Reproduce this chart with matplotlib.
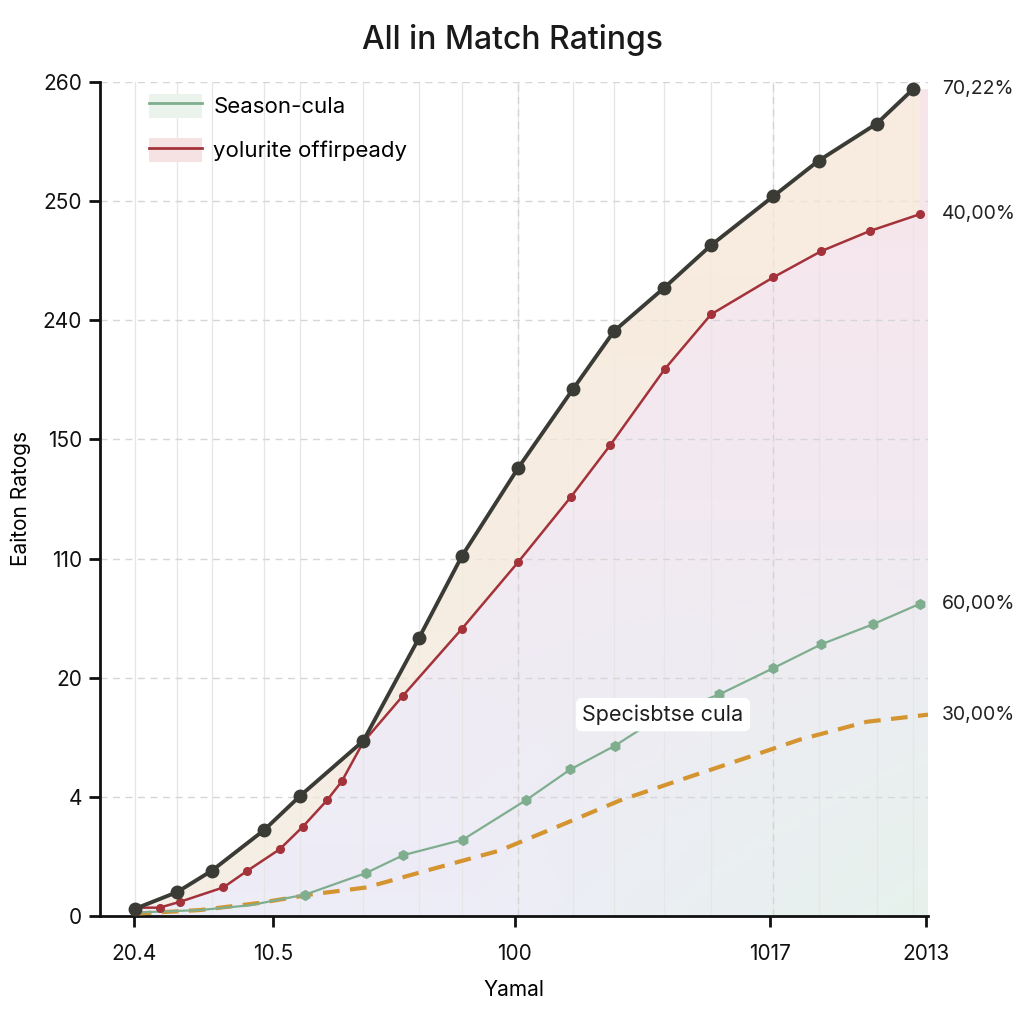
import numpy as np
import matplotlib
matplotlib.use("Agg")
import matplotlib.pyplot as plt
from matplotlib.lines import Line2D
from matplotlib.patches import Patch

plt.rcParams['font.family'] = ['Inter', 'DejaVu Sans']

# tick labels (evenly spaced positions, labels as printed)
y_labels = ['0', '4', '20', '110', '150', '240', '250', '260']
x_tick_pos = [0.41, 2.09, 5.01, 8.09, 9.98]
x_labels = ['20.4', '10.5', '100', '1017', '2013']

# series, in axis units
black_x = [0.42, 0.93, 1.35, 1.98, 2.42, 3.18, 3.85, 4.37, 5.05, 5.71, 6.21, 6.81, 7.38, 8.13, 8.68, 9.38, 9.82]
black_y = [0.06, 0.20, 0.38, 0.72, 1.01, 1.47, 2.33, 3.02, 3.76, 4.42, 4.91, 5.27, 5.63, 6.04, 6.34, 6.65, 6.94]

red_x = [0.43, 0.72, 0.97, 1.49, 1.78, 2.17, 2.45, 2.74, 2.92, 3.18, 3.66, 4.37, 5.05, 5.69, 6.16, 6.82, 7.38, 8.13, 8.71, 9.30, 9.90]
red_y = [0.07, 0.07, 0.12, 0.24, 0.38, 0.56, 0.75, 0.97, 1.13, 1.46, 1.85, 2.41, 2.97, 3.52, 3.95, 4.59, 5.05, 5.36, 5.58, 5.75, 5.89]

green_x = [0.48, 1.21, 1.81, 2.48, 3.21, 3.66, 4.38, 5.14, 5.68, 6.22, 6.76, 7.48, 8.13, 8.71, 9.34, 9.90]
green_y = [0.03, 0.05, 0.09, 0.18, 0.36, 0.51, 0.64, 0.97, 1.23, 1.43, 1.67, 1.86, 2.08, 2.28, 2.45, 2.62]

orange_x = [0.42, 1.21, 1.93, 2.54, 3.22, 3.99, 4.83, 5.56, 6.28, 7.00, 7.73, 8.45, 9.26, 10.0]
orange_y = [0.02, 0.05, 0.11, 0.18, 0.24, 0.39, 0.55, 0.76, 0.97, 1.14, 1.31, 1.48, 1.63, 1.69]

end_labels = ['70,22%', '40,00%', '60,00%', '30,00%']

c_black = '#3b3b35'
c_red = '#a3323a'
c_green = '#7fae8f'
c_orange = '#d49430'

fig = plt.figure(figsize=(10.24, 10.24), dpi=100)
ax = fig.add_axes([100 / 1024, 108 / 1024, 828 / 1024, 834 / 1024])
ax.set_xlim(0, 10)
ax.set_ylim(0, 7)

# soft gradient under the top curve
gx, gy = np.meshgrid(np.linspace(0, 1, 200), np.linspace(0, 1, 200))
pink = np.array([0.97, 0.90, 0.92])
lav = np.array([0.93, 0.93, 0.97])
grn = np.array([0.90, 0.95, 0.92])
t = gy[..., None]
img = pink * t + lav * (1 - t)
g = np.clip((gx - 0.45) * 1.6, 0, 1)[..., None] * np.clip(1 - gy * 2.2, 0, 1)[..., None]
img = img * (1 - g) + grn * g
im = ax.imshow(img, extent=[0, 10, 0, 7], origin='lower', aspect='auto', zorder=0)
poly_x = [black_x[0]] + black_x + [10, 10, black_x[0]]
poly_y = [0] + black_y + [black_y[-1], 0, 0]
clip = ax.fill(poly_x, poly_y, facecolor='none', edgecolor='none')[0]
im.set_clip_path(clip)
ax.fill_between(red_x, np.interp(red_x, black_x, black_y), red_y,
                color='#fbf0d6', alpha=0.55, lw=0, zorder=1)

# grid
for xv in black_x:
    ax.axvline(xv, color='#e6e6e6', lw=0.9, zorder=0.5)
for xv in [5.05, 8.13]:
    ax.axvline(xv, color='#d4d4d4', lw=1, ls=(0, (5, 4)), zorder=0.6)
for yv in range(1, 8):
    ax.axhline(yv, color='#d6d6d6', lw=1, ls=(0, (5, 4)), zorder=0.6)

# series
ax.plot(orange_x, orange_y, color=c_orange, lw=3, ls=(0, (4, 2.5)), zorder=3)
ax.plot(green_x, green_y, color=c_green, lw=1.6, marker='h', ms=7,
        markevery=list(range(3, len(green_x))), zorder=4)
ax.plot(red_x, red_y, color=c_red, lw=1.8, marker='o', ms=5.5, zorder=5)
ax.plot(black_x, black_y, color=c_black, lw=2.8, marker='o', ms=9, zorder=6)

# end labels
ends = [black_y[-1], red_y[-1], green_y[-1], orange_y[-1]]
for ey, lab in zip(ends, end_labels):
    ax.annotate(lab, xy=(10, ey), xytext=(10, 0), textcoords='offset points',
                ha='left', va='center', fontsize=14, color='#222222',
                annotation_clip=False)

ax.text(6.8, 1.69, 'Specisbtse cula', ha='center', va='center', fontsize=15.5,
        color='#1e1e1e', zorder=8,
        bbox=dict(boxstyle='round,pad=0.3', fc='white', ec='none'))

# axes styling
for s in ['top', 'right']:
    ax.spines[s].set_visible(False)
for s in ['left', 'bottom']:
    ax.spines[s].set_linewidth(2)
    ax.spines[s].set_color('#111111')
ax.set_yticks(range(8))
ax.set_yticklabels(y_labels)
ax.set_xticks(x_tick_pos)
ax.set_xticklabels(x_labels)
ax.tick_params(axis='both', length=8, width=2, labelsize=15, colors='#111111')
ax.tick_params(axis='y', pad=5)
ax.tick_params(axis='x', pad=12)

ax.set_xlabel('Yamal', fontsize=15, labelpad=12)
ax.set_ylabel('Eaiton Ratogs', fontsize=15, labelpad=8)
fig.text(0.5, 1 - 40 / 1024, 'All in Match Ratings', ha='center', va='center',
         fontsize=23, fontweight='medium', color='#1a1a1a')

handles = [(Patch(facecolor='#eaf3ec', edgecolor='none'), Line2D([], [], color=c_green, lw=2)),
           (Patch(facecolor='#f6e2e2', edgecolor='none'), Line2D([], [], color=c_red, lw=2))]
ax.legend(handles, ['Season-cula', 'yolurite offirpeady'], loc='upper left',
          bbox_to_anchor=(0.035, 1.01), frameon=False, fontsize=16,
          handlelength=2.4, handleheight=1.3, labelspacing=0.9, handletextpad=0.5)

fig.savefig('out.png', dpi=100)
